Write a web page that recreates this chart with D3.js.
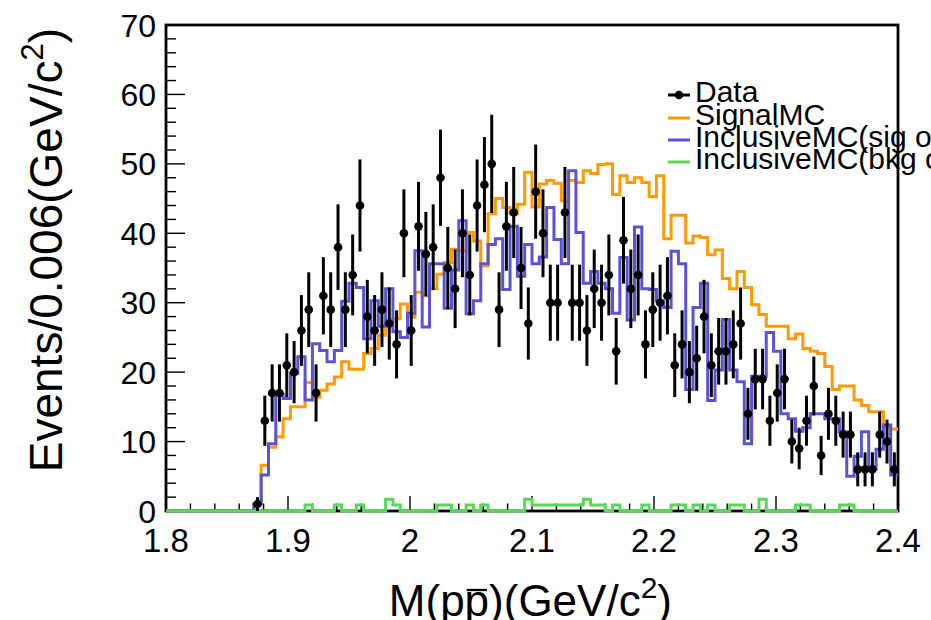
<!DOCTYPE html>
<html>
<head>
<meta charset="utf-8">
<script src="https://cdn.jsdelivr.net/npm/d3@7"></script>
<style>
  body { margin: 0; background: #fff; }
  svg { display: block; }
  text { font-family: "Liberation Sans", Arial, Helvetica, sans-serif; fill: #000; }
</style>
</head>
<body>
<svg id="chart" width="931" height="620"></svg>
<script>
// Binning of the M(p pbar) histograms
const xRange = [1.8, 2.4];
const yRange = [0, 70];
const binWidth = 0.006;
const nBins = 100;
const firstBin = 12;            // first bin above the p pbar threshold (bins 12..99 listed below)

// Data: event counts per bin
const dataCounts = [
  1, 13, 17, 17, 21, 20, 26, 29, 17, 31,
  29, 38, 29, 34, 44, 28, 26, 29, 27, 24,
  40, 26, 41, 37, 38, 48, 35, 32, 40, 34,
  44, 47, 50, 29, 41, 43, 35, 27, 46, 40,
  30, 30, 43, 30, 30, 26, 32, 30, 34, 23,
  39, 32, 34, 24, 29, 30, 31, 21, 24, 20,
  22, 28, 21, 23, 23, 24, 27, 14, 19, 19,
  13, 17, 19, 10, 9, 13, 18, 8, 14, 13,
  11, 11, 6, 6, 6, 11, 10, 6
];

// Signal MC (normalised)
const signalMC = [
  1, 6.6, 9.2, 10.7, 13.3, 15, 15, 18.5, 16.4, 17.4,
  18.3, 19.3, 21.5, 20.4, 20.4, 22.7, 23.4, 25.3, 27.4, 27.7,
  29.8, 27.9, 31.5, 31, 32, 34.1, 35.8, 37.7, 37.5, 40.1,
  38.9, 35.3, 42.8, 45, 43.7, 42.8, 44.2, 48.8, 43.8, 47.1,
  47.6, 47.2, 44.7, 47.6, 47.3, 49, 48.6, 49.9, 50, 45.6,
  48.3, 47.3, 48, 47.3, 45.3, 48.3, 39.2, 42.6, 42.6, 38.6,
  39.6, 39.4, 36.9, 37.6, 33.5, 32, 34.5, 32.2, 29.7, 28.3,
  26.6, 26.6, 26.6, 24.8, 25.5, 23.4, 23, 22.7, 20.8, 17.5,
  18, 18, 16, 15.2, 14.3, 14.3, 12.2, 11.8
];

// Inclusive MC, signal component
const inclusiveSig = [
  1, 5.2, 9.7, 16.8, 16.2, 19.8, 22.2, 16, 24.1, 23.1,
  21.5, 23.1, 30.2, 32.8, 32.2, 24.8, 30.3, 26.6, 32, 25.8,
  25, 28.5, 37.5, 26.5, 35.6, 35.6, 29.2, 34.7, 41.8, 28.4,
  30.3, 35.6, 38.4, 39.2, 31.9, 41, 33.8, 38.4, 35.6, 36.6,
  43.7, 39.1, 35.6, 49, 40.1, 32.8, 34.5, 32.8, 32, 28.5,
  36.5, 27.5, 40.9, 32, 31.9, 30.3, 29.3, 37.4, 35.6, 17.5,
  29.3, 32.8, 15.9, 20.3, 27.6, 20.3, 18.6, 9.7, 19.4, 19.4,
  25.7, 23, 14, 13.3, 11.5, 12, 14, 14, 13.3, 13.3,
  11.4, 5, 7.9, 11.4, 6, 8.9, 12.4, 5.2
];

// Inclusive MC, background component
const inclusiveBkg = [
  0, 0, 0, 0, 0, 0, 0, 0.85, 0, 0,
  0, 0.85, 0, 0, 0.85, 0, 0, 0, 1.7, 0.85,
  0, 0, 0, 0, 0, 0.85, 0.85, 0, 0, 0.85,
  0, 0.85, 0, 0, 0, 0, 0, 1.7, 0.85, 0.85,
  0.85, 0.85, 0.85, 0.85, 0.85, 1.7, 0.85, 0.85, 0, 0.85,
  0, 0, 0, 0.85, 0, 0, 0, 0.85, 0.85, 0,
  0.85, 0, 0.85, 0, 0, 0.85, 0.85, 0, 0, 1.7,
  0, 0, 0, 0, 0.85, 0.85, 0, 0, 0, 0,
  0.85, 0.85, 0, 0, 0, 0, 0, 0
];

const xTickValues = [1.8, 1.9, 2.0, 2.1, 2.2, 2.3, 2.4];
const xTickLabels = ["1.8", "1.9", "2", "2.1", "2.2", "2.3", "2.4"];
const yTickValues = [0, 10, 20, 30, 40, 50, 60, 70];
const yTickLabels = ["0", "10", "20", "30", "40", "50", "60", "70"];

const legendLabels = ["Data", "SignalMC", "InclusiveMC(sig only)", "InclusiveMC(bkg only)"];
const colors = { data: "#000", signal: "#ff9a00", sig: "#5b52d9", bkg: "#57d957" };

const svg = d3.select("#chart");
const frame = { left: 166, right: 898, top: 25, bottom: 511 };

const x = d3.scaleLinear().domain(xRange).range([frame.left, frame.right]);
const y = d3.scaleLinear().domain(yRange).range([frame.bottom, frame.top]);

// full histogram content, zero below threshold
function fullBins(vals) {
  const out = new Array(nBins).fill(0);
  vals.forEach((v, i) => { out[firstBin + i] = v; });
  return out;
}
const lowEdge = i => xRange[0] + i * binWidth;

// step outline of a histogram
function stepPoints(vals) {
  const b = fullBins(vals);
  const pts = [];
  b.forEach((v, i) => {
    pts.push([lowEdge(i), v]);
    pts.push([lowEdge(i + 1), v]);
  });
  return pts;
}
const stepLine = d3.line().x(d => x(d[0])).y(d => y(d[1]));

// ---- axes ticks (inside the frame) ----
const ax = svg.append("g").attr("stroke", "#000").attr("stroke-width", 1.4);
const xMinor = d3.range(0, 31).map(i => xRange[0] + i * 0.02);
xMinor.forEach((v, i) => {
  const major = i % 5 === 0;
  ax.append("line")
    .attr("x1", x(v)).attr("x2", x(v))
    .attr("y1", frame.bottom).attr("y2", frame.bottom - (major ? 15 : 7.5));
});
const yMinor = d3.range(0, 36).map(i => i * 2);
yMinor.forEach((v, i) => {
  const major = i % 5 === 0;
  ax.append("line")
    .attr("x1", frame.left).attr("x2", frame.left + (major ? 19 : 10))
    .attr("y1", y(v)).attr("y2", y(v));
});

// ---- frame ----
svg.append("rect")
  .attr("x", frame.left).attr("y", frame.top)
  .attr("width", frame.right - frame.left).attr("height", frame.bottom - frame.top)
  .attr("fill", "none").attr("stroke", "#000").attr("stroke-width", 2.8);

// ---- tick labels ----
svg.append("g").selectAll("text").data(xTickValues).join("text")
  .attr("x", d => x(d)).attr("y", 552)
  .attr("text-anchor", "middle").attr("font-size", 33)
  .text((d, i) => xTickLabels[i]);

svg.append("g").selectAll("text").data(yTickValues).join("text")
  .attr("x", 156).attr("y", d => y(d) + 11.5)
  .attr("text-anchor", "end").attr("font-size", 32)
  .text((d, i) => yTickLabels[i]);

// ---- axis titles ----
const xt = svg.append("text")
  .attr("x", 672).attr("y", 616)
  .attr("text-anchor", "end").attr("font-size", 44);
xt.append("tspan").text("M(pp)(GeV/c");
xt.append("tspan").attr("font-size", 30).attr("dy", -18).text("2");
xt.append("tspan").attr("dy", 18).text(")");
// bar over the anti-proton
{
  const ext = xt.node().getExtentOfChar(3);
  svg.append("line")
    .attr("x1", ext.x + 2).attr("x2", ext.x + ext.width - 2)
    .attr("y1", 590).attr("y2", 590)
    .attr("stroke", "#000").attr("stroke-width", 2.3);
}

const yt = svg.append("text")
  .attr("transform", "translate(62,28) rotate(-90)")
  .attr("text-anchor", "end").attr("font-size", 46);
yt.append("tspan").text("Events/0.006(GeV/c");
yt.append("tspan").attr("font-size", 31).attr("dy", -19).text("2");
yt.append("tspan").attr("dy", 19).text(")");

// ---- histograms ----
const plot = svg.append("g");
const dataBins = fullBins(dataCounts)
  .map((v, i) => ({ xc: lowEdge(i) + binWidth / 2, v }))
  .filter(d => d.v > 0);

plot.append("path").attr("d", stepLine(stepPoints(signalMC)))
  .attr("fill", "none").attr("stroke", colors.signal).attr("stroke-width", 3);
plot.append("path").attr("d", stepLine(stepPoints(inclusiveSig)))
  .attr("fill", "none").attr("stroke", colors.sig).attr("stroke-width", 3);
plot.append("path").attr("d", stepLine(stepPoints(inclusiveBkg)))
  .attr("fill", "none").attr("stroke", colors.bkg).attr("stroke-width", 3);

// data points with Poisson error bars
plot.append("g").selectAll("line").data(dataBins).join("line")
  .attr("x1", d => x(d.xc)).attr("x2", d => x(d.xc))
  .attr("y1", d => y(d.v + Math.sqrt(d.v)))
  .attr("y2", d => y(Math.max(0, d.v - Math.sqrt(d.v))))
  .attr("stroke", colors.data).attr("stroke-width", 3);
plot.append("g").selectAll("circle").data(dataBins).join("circle")
  .attr("cx", d => x(d.xc)).attr("cy", d => y(d.v))
  .attr("r", 4.3).attr("fill", colors.data);

// ---- legend ----
const legendY = [95, 118, 140, 162];
const lg = svg.append("g");
const legendColors = [colors.data, colors.signal, colors.sig, colors.bkg];
legendY.forEach((ly, i) => {
  lg.append("line").attr("x1", 668).attr("x2", 690).attr("y1", ly).attr("y2", ly)
    .attr("stroke", legendColors[i]).attr("stroke-width", 3);
  if (i === 0) lg.append("circle").attr("cx", 679).attr("cy", ly).attr("r", 4.3).attr("fill", colors.data);
  lg.append("text").attr("x", 695).attr("y", ly + 7).attr("font-size", 30).text(legendLabels[i]);
});
</script>
</body>
</html>
